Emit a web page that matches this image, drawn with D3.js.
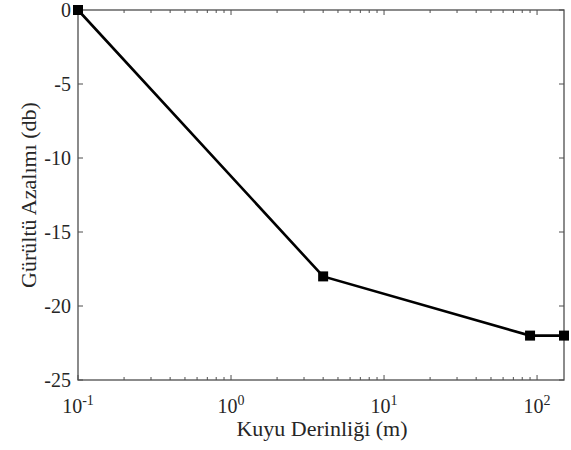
<!DOCTYPE html>
<html>
<head>
<meta charset="utf-8">
<script src="https://cdn.jsdelivr.net/npm/d3@7"></script>
<style>
body { margin: 0; background: #fff; }
text { font-family: "Liberation Serif", "Times New Roman", serif; fill: #262626; }
</style>
</head>
<body>
<div id="chart"></div>
<script>
// data
var depth = [0.1, 4, 90, 150];
var reduction = [0, -18, -22, -22];
var yTicks = [0, -5, -10, -15, -20, -25];
var xTicks = [0.1, 1, 10, 100];
var xExp = ["-1", "0", "1", "2"];

var svgWidth = 571, svgHeight = 450;
var margin = {top: 10, right: 7, bottom: 70, left: 78};
var width = svgWidth - margin.left - margin.right;
var height = svgHeight - margin.top - margin.bottom;

var svg = d3.select("#chart").append("svg")
    .attr("width", svgWidth).attr("height", svgHeight);

var g = svg.append("g")
    .attr("transform", "translate(" + margin.left + " " + margin.top + ")");

var x = d3.scaleLog().domain([0.1, 150]).range([0, width]);
var y = d3.scaleLinear().domain([-25, 0]).range([height, 0]);

var axisColor = "#4d4d4d";

// minor ticks for the log axis
var minor = [];
for (var e = -1; e <= 2; e++) {
    for (var m = 1; m < 10; m++) {
        var v = m * Math.pow(10, e);
        if (v >= 0.1 && v <= 150) minor.push(v);
    }
}

// bottom and top ticks
[height, 0].forEach(function(yy, k) {
    var dir = k == 0 ? -1 : 1;
    g.selectAll(null).data(minor).enter().append("line")
        .attr("x1", function(d) { return x(d); }).attr("x2", function(d) { return x(d); })
        .attr("y1", yy)
        .attr("y2", function(d) { return yy + dir * (xTicks.indexOf(d) >= 0 ? 5 : 3); })
        .attr("stroke", axisColor).attr("stroke-width", 1);
});

// left and right ticks
[0, width].forEach(function(xx, k) {
    var dir = k == 0 ? 1 : -1;
    g.selectAll(null).data(yTicks).enter().append("line")
        .attr("x1", xx).attr("x2", xx + dir * 5)
        .attr("y1", function(d) { return y(d); }).attr("y2", function(d) { return y(d); })
        .attr("stroke", axisColor).attr("stroke-width", 1);
});

// box
g.append("rect")
    .attr("x", 0).attr("y", 0).attr("width", width).attr("height", height)
    .attr("fill", "none").attr("stroke", axisColor).attr("stroke-width", 1.3);

// y tick labels
g.selectAll(null).data(yTicks).enter().append("text")
    .attr("x", -7).attr("y", function(d) { return y(d); })
    .attr("dy", "0.35em")
    .attr("text-anchor", "end")
    .attr("font-size", "20px")
    .text(function(d) { return d; });

// x tick labels with superscripts
var xl = g.selectAll(null).data(xTicks).enter().append("text")
    .attr("x", function(d) { return x(d); })
    .attr("y", height + 33)
    .attr("text-anchor", "middle")
    .attr("font-size", "20px");
xl.append("tspan").text("10");
xl.append("tspan")
    .attr("dy", "-8").attr("font-size", "14px")
    .text(function(d, i) { return xExp[i]; });

// axis titles
g.append("text")
    .attr("x", width / 2 + 1).attr("y", height + 56)
    .attr("text-anchor", "middle")
    .attr("font-size", "22px")
    .text("Kuyu Derinliği (m)");

g.append("text")
    .attr("transform", "translate(" + (-42) + " " + height / 2 + ") rotate(-90)")
    .attr("text-anchor", "middle")
    .attr("font-size", "22px")
    .text("Gürültü Azalımı (db)");

// line
var pts = depth.map(function(d, i) { return [d, reduction[i]]; });
var line = d3.line()
    .x(function(d) { return x(d[0]); })
    .y(function(d) { return y(d[1]); });

g.append("path")
    .datum(pts)
    .attr("d", line)
    .attr("fill", "none")
    .attr("stroke", "#000")
    .attr("stroke-width", 2.6);

// markers
g.selectAll(".mk").data(pts).enter().append("rect")
    .attr("class", "mk")
    .attr("x", function(d) { return x(d[0]) - 5; })
    .attr("y", function(d) { return y(d[1]) - 5; })
    .attr("width", 10).attr("height", 10)
    .attr("fill", "#000");
</script>
</body>
</html>
